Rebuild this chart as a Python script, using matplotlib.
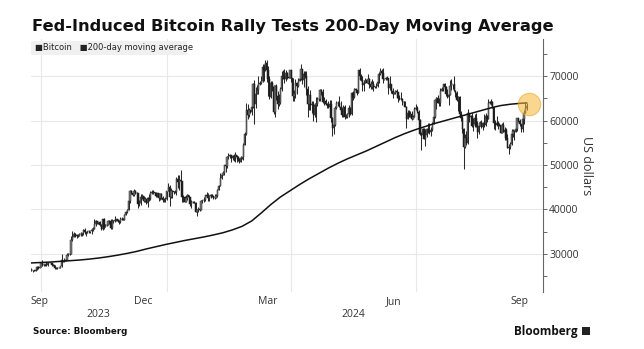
import matplotlib
matplotlib.use("Agg")
import matplotlib.pyplot as plt
import matplotlib.dates as mdates
import numpy as np
import pandas as pd
from matplotlib.patches import Rectangle

# Daily Bitcoin prices (thousand USD), 2023-09-24 .. 2024-09-20
first_open = 26.20
close = [
    # Sep 2023 (24-30)
    26.25, 26.30, 26.22, 26.37, 27.02, 26.91, 26.97,
    # Oct 2023
    27.99, 27.50, 27.43, 27.79, 27.41, 27.95, 27.97, 27.94, 27.59, 27.39,
    26.87, 26.76, 26.86, 26.86, 27.16, 28.52, 28.41, 28.33, 28.72, 29.68,
    29.92, 29.99, 33.09, 33.90, 34.50, 34.16, 33.91, 34.09, 34.54, 34.50, 34.67,
    # Nov 2023
    35.44, 34.94, 34.73, 35.08, 35.05, 35.04, 35.42, 35.65, 36.69, 37.31,
    37.13, 37.07, 36.50, 35.54, 37.88, 36.15, 36.60, 36.59, 37.39, 37.48,
    35.81, 37.42, 37.29, 37.72, 37.80, 37.48, 37.25, 37.83, 37.86, 37.72,
    # Dec 2023
    38.69, 39.48, 39.98, 41.98, 44.08, 43.75, 43.29, 44.17, 43.73, 43.78,
    41.24, 41.45, 42.89, 43.02, 41.94, 42.28, 41.36, 42.66, 42.27, 43.65,
    43.87, 43.99, 43.74, 43.01, 43.61, 42.52, 43.44, 42.59, 42.07, 42.14, 42.28,
    # Jan 2024
    44.18, 44.95, 42.85, 44.18, 44.16, 43.97, 43.93, 46.97, 46.12, 46.65,
    46.34, 42.85, 42.84, 41.73, 42.51, 43.15, 42.74, 41.26, 41.62, 41.67,
    41.55, 39.51, 39.85, 40.08, 39.93, 41.82, 42.12, 42.03, 43.30, 42.94, 42.58,
    # Feb 2024
    43.08, 43.19, 43.00, 42.58, 42.66, 43.09, 44.34, 45.30, 47.15, 47.77,
    48.29, 49.96, 49.70, 51.81, 51.93, 52.16, 51.66, 52.12, 51.78, 52.28,
    51.84, 51.30, 50.73, 51.57, 51.73, 54.52, 57.09, 62.50, 61.20,
    # Mar 2024
    62.44, 62.03, 63.17, 68.33, 63.80, 66.11, 66.93, 68.30, 68.50, 69.02,
    72.12, 71.48, 73.08, 71.40, 69.40, 65.30, 68.39, 67.61, 61.93, 67.84,
    65.50, 63.78, 64.06, 67.23, 69.96, 69.99, 69.45, 70.74, 69.89, 69.65, 71.33,
    # Apr 2024
    69.70, 65.45, 65.98, 68.51, 67.84, 68.90, 69.36, 71.63, 69.14, 70.59,
    70.06, 67.20, 63.82, 65.74, 63.42, 63.81, 61.28, 63.51, 63.84, 64.99,
    64.93, 66.84, 66.41, 64.28, 64.48, 63.76, 63.42, 63.11, 63.84, 60.64,
    # May 2024
    58.25, 59.12, 62.89, 63.89, 64.03, 63.16, 62.33, 61.19, 63.05, 60.79,
    60.79, 61.45, 62.90, 61.55, 66.27, 65.23, 67.05, 66.94, 66.28, 71.45,
    70.14, 69.12, 67.93, 68.53, 69.26, 68.51, 69.39, 68.30, 67.58, 68.35, 67.49,
    # Jun 2024
    67.71, 67.75, 68.80, 70.57, 71.08, 70.76, 69.34, 69.31, 69.65, 69.51,
    67.31, 68.24, 66.76, 66.01, 66.19, 66.64, 66.49, 65.14, 64.96, 64.83,
    64.10, 64.25, 63.18, 60.28, 61.80, 60.81, 61.61, 60.32, 60.89, 62.68,
    # Jul 2024
    62.85, 62.03, 60.20, 57.06, 56.66, 58.23, 55.86, 56.71, 58.05, 57.72,
    57.34, 57.90, 59.23, 60.80, 64.72, 65.04, 64.09, 63.97, 66.71, 67.15,
    68.19, 67.55, 65.93, 65.37, 65.80, 67.90, 68.25, 68.25, 66.78, 66.18, 64.63,
    # Aug 2024
    65.35, 61.50, 60.68, 58.10, 53.99, 56.03, 55.03, 61.71, 60.88, 60.95,
    58.72, 59.35, 60.61, 58.74, 57.56, 58.88, 59.48, 58.48, 59.49, 59.01,
    61.16, 60.38, 64.09, 64.18, 64.16, 62.83, 59.43, 59.03, 59.37, 59.12, 58.97,
    # Sep 2024 (1-20)
    57.33, 59.13, 57.49, 57.97, 56.16, 53.95, 54.14, 54.84, 57.02, 57.65,
    57.34, 58.13, 60.57, 60.00, 59.18, 58.20, 60.31, 61.76, 62.95, 63.20,
]
high = [
    26.74, 26.43, 26.39, 26.82, 27.31, 27.23, 27.08,
    28.05, 28.58, 27.66, 27.81, 28.12, 28.25, 28.02, 28.10, 27.99, 27.70,
    27.48, 26.94, 27.06, 26.95, 27.29, 29.99, 28.61, 28.96, 28.91, 30.21,
    30.29, 30.11, 33.95, 35.15, 35.00, 34.75, 34.45, 34.45, 34.73, 34.81, 34.71,
    35.57, 35.93, 34.96, 35.25, 35.36, 35.25, 35.88, 35.98, 37.93, 37.52,
    37.44, 37.21, 37.41, 36.75, 37.95, 37.96, 36.83, 36.84, 37.51, 37.71,
    37.84, 37.84, 37.65, 38.43, 37.89, 37.84, 37.56, 38.36, 38.39, 38.15,
    38.95, 39.67, 40.18, 42.16, 44.41, 44.27, 44.04, 44.70, 44.36, 44.04,
    43.75, 42.10, 43.40, 43.41, 43.08, 42.70, 42.39, 42.73, 43.38, 44.22,
    44.27, 44.37, 44.01, 43.92, 43.78, 43.58, 43.66, 43.80, 43.11, 42.59, 42.86,
    44.18, 45.90, 45.50, 44.73, 44.34, 44.20, 44.48, 47.20, 47.65, 47.70,
    48.97, 46.49, 43.24, 43.07, 43.32, 43.54, 43.17, 42.89, 42.16, 41.85,
    41.85, 41.68, 40.13, 40.50, 40.27, 42.15, 42.19, 42.80, 43.31, 43.84, 43.71,
    43.29, 43.48, 43.38, 43.12, 43.53, 43.38, 44.51, 45.58, 48.15, 48.17,
    48.55, 50.08, 50.32, 52.04, 52.82, 52.54, 52.19, 52.36, 52.45, 52.99,
    52.37, 52.02, 51.69, 51.95, 51.92, 54.91, 57.53, 63.91, 63.68,
    62.95, 62.48, 63.23, 68.54, 69.17, 67.63, 67.99, 69.98, 68.92, 69.99,
    72.76, 72.88, 73.64, 73.78, 72.40, 70.03, 68.92, 68.93, 68.09, 68.11,
    68.20, 66.62, 65.95, 67.48, 71.20, 71.51, 71.73, 71.49, 70.93, 70.32, 71.37,
    71.34, 69.67, 66.91, 69.29, 68.70, 69.58, 70.28, 72.72, 71.73, 71.16,
    71.23, 71.16, 67.88, 65.83, 66.80, 64.36, 64.45, 64.09, 65.42, 65.44,
    65.66, 67.19, 67.20, 67.05, 65.28, 64.77, 63.92, 64.35, 64.70, 64.66,
    60.78, 59.60, 63.32, 64.49, 64.40, 65.45, 64.37, 62.99, 63.42, 63.45,
    61.45, 61.82, 63.42, 63.02, 66.44, 66.69, 67.40, 67.39, 66.81, 71.48,
    71.91, 70.62, 70.04, 69.18, 69.56, 69.47, 70.61, 69.54, 68.85, 69.50, 69.00,
    67.86, 68.41, 70.27, 71.05, 71.76, 71.63, 71.94, 69.50, 69.85, 70.15,
    69.53, 69.99, 68.37, 67.30, 66.40, 66.98, 67.23, 66.54, 65.72, 66.48,
    65.00, 64.52, 64.51, 63.37, 62.34, 62.43, 62.29, 62.17, 61.19, 63.00,
    63.78, 63.27, 62.32, 60.45, 57.53, 58.45, 58.37, 58.19, 58.29, 59.45,
    59.37, 58.50, 59.79, 61.35, 64.87, 65.33, 65.75, 65.06, 67.39, 67.63,
    68.36, 68.47, 67.76, 67.03, 66.08, 69.23, 69.40, 68.32, 70.00, 66.96, 66.79,
    65.59, 65.60, 62.19, 61.13, 58.28, 57.03, 57.72, 62.65, 61.74, 61.23,
    61.80, 60.68, 61.56, 61.75, 59.84, 59.81, 59.97, 60.23, 59.59, 61.40,
    61.79, 61.39, 64.89, 64.51, 64.99, 64.48, 63.19, 60.19, 61.15, 59.87, 59.43,
    59.07, 59.40, 59.81, 58.52, 58.30, 56.98, 54.85, 55.30, 58.06, 58.04,
    57.98, 58.57, 60.65, 60.64, 60.40, 59.16, 61.33, 62.40, 64.13, 64.00,
]
low = [
    26.13, 25.99, 26.09, 26.12, 26.34, 26.66, 26.88,
    26.97, 27.22, 27.15, 27.22, 27.28, 27.23, 27.87, 27.73, 27.35, 27.33,
    26.63, 26.56, 26.69, 26.81, 26.84, 27.12, 28.18, 28.16, 28.29, 28.62,
    29.46, 29.72, 29.89, 32.95, 33.83, 33.77, 33.49, 33.87, 34.04, 34.08, 34.11,
    34.34, 34.49, 34.12, 34.59, 34.75, 34.68, 34.56, 35.18, 35.60, 36.35,
    36.77, 36.75, 36.34, 35.27, 35.37, 35.59, 35.94, 36.21, 36.54, 36.78,
    35.63, 35.66, 36.90, 37.20, 37.29, 37.24, 36.76, 36.89, 37.64, 37.62,
    37.61, 38.66, 39.28, 39.97, 41.41, 43.40, 43.04, 43.08, 43.58, 43.40,
    40.23, 40.68, 40.99, 42.37, 41.71, 41.77, 41.25, 40.55, 41.92, 42.23,
    43.45, 43.37, 43.34, 42.82, 42.78, 41.81, 42.15, 42.33, 41.58, 41.77, 41.75,
    42.17, 44.12, 40.81, 42.62, 42.66, 43.43, 43.66, 43.21, 44.85, 44.36,
    45.65, 41.73, 41.72, 41.69, 41.76, 42.07, 42.22, 40.68, 40.27, 41.45,
    41.50, 39.47, 38.55, 39.51, 39.59, 39.87, 41.49, 41.66, 41.83, 42.73, 41.98,
    41.88, 42.60, 42.88, 42.30, 42.26, 42.58, 42.75, 44.30, 45.26, 46.86,
    47.66, 47.79, 48.35, 49.29, 51.36, 51.64, 50.65, 51.09, 51.02, 50.62,
    50.65, 50.81, 50.56, 50.64, 51.38, 51.06, 54.51, 56.80, 60.41,
    60.75, 61.66, 61.20, 62.82, 59.26, 62.89, 66.08, 66.09, 68.05, 68.21,
    68.71, 68.98, 71.23, 68.68, 65.63, 64.80, 65.14, 66.64, 61.56, 60.85,
    64.56, 62.63, 63.24, 63.85, 66.63, 69.28, 68.40, 69.03, 69.32, 69.57, 69.64,
    68.80, 64.53, 64.49, 65.08, 66.09, 67.56, 68.93, 69.10, 68.26, 67.59,
    69.62, 65.80, 60.93, 62.30, 62.33, 61.72, 59.83, 60.79, 59.70, 63.20,
    64.37, 64.52, 65.75, 63.87, 63.44, 63.63, 62.84, 62.86, 61.84, 59.77,
    56.55, 56.94, 58.84, 62.64, 63.30, 63.01, 62.28, 60.78, 60.74, 60.30,
    60.63, 60.69, 60.87, 61.19, 61.39, 64.62, 65.13, 66.63, 65.89, 66.17,
    69.17, 68.95, 66.63, 66.75, 68.57, 68.47, 68.30, 67.32, 67.16, 67.16, 66.73,
    67.27, 67.43, 67.61, 68.56, 70.40, 70.12, 68.51, 69.15, 69.21, 69.23,
    66.12, 66.90, 66.30, 65.08, 65.90, 66.02, 65.18, 64.13, 64.76, 64.61,
    63.42, 63.99, 63.15, 58.40, 60.68, 60.79, 60.72, 60.06, 60.37, 60.77,
    62.50, 61.76, 59.42, 56.83, 53.49, 56.00, 55.76, 54.33, 56.34, 57.31,
    56.97, 56.57, 57.77, 59.50, 60.64, 62.66, 63.95, 63.30, 63.35, 66.69,
    66.66, 66.58, 65.55, 65.17, 63.51, 65.80, 66.81, 67.12, 66.61, 65.36, 64.53,
    62.26, 61.21, 59.90, 57.25, 49.12, 53.79, 54.58, 54.82, 59.78, 60.37,
    58.50, 57.72, 58.59, 58.54, 56.16, 57.10, 58.79, 58.39, 57.90, 58.55,
    58.86, 59.78, 60.38, 63.66, 63.60, 62.80, 58.12, 57.89, 58.71, 58.16, 58.76,
    57.21, 57.13, 57.40, 55.61, 55.68, 53.74, 52.55, 53.68, 54.60, 56.40,
    55.55, 57.34, 57.60, 59.60, 58.90, 57.49, 57.55, 59.19, 61.68, 62.40,
]

# 200-day moving average (thousand USD), weekly from 2023-09-24, plus last day
ma_values = [
    27.95, 28.05, 28.15, 28.30, 28.45, 28.60, 28.80, 29.05, 29.35, 29.70,
    30.10, 30.55, 31.10, 31.60, 32.10, 32.55, 33.00, 33.40, 33.80, 34.25,
    34.75, 35.40, 36.20, 37.40, 39.20, 41.10, 42.80, 44.20, 45.60, 46.90,
    48.10, 49.30, 50.40, 51.40, 52.30, 53.20, 54.20, 55.20, 56.20, 57.10,
    57.90, 58.60, 59.30, 59.90, 60.50, 61.10, 61.70, 62.30, 62.90, 63.40,
    63.70, 63.90, 64.00,
]

y_ticks = [30000, 40000, 50000, 60000, 70000]
month_labels = ["Sep", "Dec", "Mar", "Jun", "Sep"]
month_label_dates = ["2023-09-30", "2023-12-15", "2024-03-15", "2024-06-15", "2024-09-15"]
year_labels = ["2023", "2024"]
year_label_dates = ["2023-11-12", "2024-05-16"]
grid_dates = ["2023-10-01", "2024-01-01", "2024-04-01", "2024-07-01"]

n = min(len(close), len(high), len(low))
dates = pd.date_range("2023-09-24", periods=n, freq="D")
x = mdates.date2num(dates)
c = np.array(close[:n]) * 1000
h = np.array(high[:n]) * 1000
l = np.array(low[:n]) * 1000
o = np.concatenate([[first_open * 1000], c[:-1]])
h = np.maximum(h, np.maximum(o, c))
l = np.minimum(l, np.minimum(o, c))

ma_dates = list(pd.date_range("2023-09-24", periods=len(ma_values) - 1, freq="7D")) + [dates[-1]]
ma_x = mdates.date2num(pd.DatetimeIndex(ma_dates))
ma_y = np.array(ma_values) * 1000

fig = plt.figure(figsize=(6.44, 3.49), dpi=100)
ax = fig.add_axes([31 / 644, 1 - 292 / 349, 512 / 644, 253 / 349])

x0 = mdates.date2num(pd.Timestamp("2023-09-24")) - 0.3
ax.set_xlim(x0, x0 + 512 / 1.368)
ax.set_ylim(21400, 78400)

# grid
for gd in grid_dates:
    ax.axvline(mdates.date2num(pd.Timestamp(gd)), color="#e8e8e8", lw=0.8, zorder=0)
for yt in y_ticks:
    ax.axhline(yt, color="#e8e8e8", lw=0.8, zorder=0)

# candlesticks
up = c >= o
ax.vlines(x, l, h, color="#2a2a2a", lw=0.75, zorder=2)
body_lo = np.minimum(o, c)
body_hi = np.maximum(o, c)
ax.bar(x[up], (body_hi - body_lo)[up], bottom=body_lo[up], width=0.9,
       color="#7a7a7a", edgecolor="#2a2a2a", lw=0.35, zorder=3)
ax.bar(x[~up], (body_hi - body_lo)[~up], bottom=body_lo[~up], width=0.9,
       color="#1c1c1c", edgecolor="#1c1c1c", lw=0.35, zorder=3)

# moving average
ax.plot(ma_x, ma_y, color="#111111", lw=1.1, zorder=4)

# highlight latest price
ax.scatter([x[-1] + 1.5], [c[-1] + 600], s=260, color="#f7b733", alpha=0.55,
           edgecolor="#e8a020", linewidth=0.8, zorder=5)

# axes styling
for side in ["top", "left", "bottom"]:
    ax.spines[side].set_visible(False)
ax.spines["right"].set_color("#666666")
ax.spines["right"].set_linewidth(0.8)
ax.yaxis.tick_right()
ax.set_yticks(y_ticks)
ax.set_yticklabels([str(v) for v in y_ticks], fontsize=7.5, color="#333333",
                   family="Open Sans")
ax.set_yticks(np.arange(25000, 80000, 10000), minor=True)
ax.tick_params(axis="y", which="both", direction="out", length=3, width=0.7,
               color="#666666", pad=1.5)
ax.yaxis.set_label_position("right")
ax.set_ylabel("US dollars", rotation=270, fontsize=9, color="#333333",
              family="Open Sans", labelpad=10)

ax.set_xticks(mdates.date2num(pd.DatetimeIndex(month_label_dates)))
ax.set_xticklabels(month_labels, fontsize=7.5, color="#333333", family="Open Sans")
ax.tick_params(axis="x", length=0, pad=3)
for lab, d in zip(year_labels, year_label_dates):
    ax.annotate(lab, xy=(mdates.date2num(pd.Timestamp(d)), 0),
                xycoords=("data", "axes fraction"), xytext=(0, -12.5),
                textcoords="offset points", ha="center", va="top",
                fontsize=7.5, color="#333333", family="Open Sans")

# title
fig.text(32 / 644, 1 - 26 / 349, "Fed-Induced Bitcoin Rally Tests 200-Day Moving Average",
         fontsize=11.7, fontweight="bold", color="#111111", va="center", ha="left",
         family="DejaVu Sans")

# legend box
fig.patches.append(Rectangle((31 / 644, 1 - 55 / 349), 156 / 644, 14 / 349,
                             transform=fig.transFigure, facecolor="#f0f0f0",
                             edgecolor="none", zorder=1))
fig.text(35 / 644, 1 - 48 / 349, "\u25a0Bitcoin   \u25a0200-day moving average",
         fontsize=6, color="#222222", va="center", ha="left", family="DejaVu Sans",
         zorder=2)

# footer
fig.text(33 / 644, 1 - 331 / 349, "Source: Bloomberg", fontsize=6.3, fontweight="bold",
         color="#111111", va="center", ha="left", family="DejaVu Sans")
fig.text(578 / 644, 1 - 331 / 349, "Bloomberg", fontsize=8.5, fontweight="bold",
         color="#111111", va="center", ha="right", family="Open Sans")
fig.patches.append(Rectangle((582 / 644, 1 - 335 / 349), 8 / 644, 8 / 349,
                             transform=fig.transFigure, facecolor="#222222",
                             edgecolor="none"))

fig.savefig("out.png", dpi=100, facecolor="white")
